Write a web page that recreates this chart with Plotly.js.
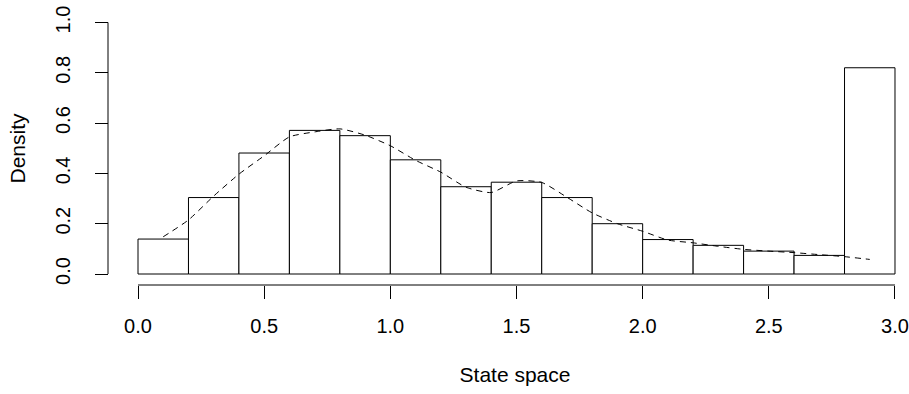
<!DOCTYPE html>
<html>
<head>
<meta charset="utf-8">
<script src="https://cdn.plot.ly/plotly-3.0.1.min.js"></script>
<style>html,body{margin:0;padding:0;background:#fff;overflow:hidden}#chart{width:909px;height:394px}</style>
</head>
<body>
<div id="chart"></div>
<script>
// Histogram bins (breaks) and densities
const breaks = [0.0,0.2,0.4,0.6,0.8,1.0,1.2,1.4,1.6,1.8,2.0,2.2,2.4,2.6,2.8,3.0];
const density = [0.139,0.304,0.481,0.571,0.550,0.454,0.347,0.365,0.304,0.200,0.137,0.114,0.091,0.074,0.820];

// Dashed density curve
const curveX = [0.1,0.2,0.3,0.4,0.5,0.6,0.7,0.8,0.9,1.0,1.1,1.2,1.3,1.4,1.5,1.6,1.7,1.8,1.9,2.0,2.1,2.2,2.3,2.4,2.5,2.6,2.7,2.8,2.9];
const curveY = [0.148,0.215,0.310,0.397,0.470,0.545,0.565,0.577,0.552,0.510,0.452,0.405,0.345,0.324,0.370,0.364,0.305,0.243,0.200,0.170,0.135,0.124,0.110,0.098,0.091,0.085,0.077,0.069,0.058];

const xTicks = [0,0.5,1.0,1.5,2.0,2.5,3.0];
const yTicks = [0,0.2,0.4,0.6,0.8,1.0];

const mids = density.map((d,i)=>(breaks[i]+breaks[i+1])/2);
const widths = density.map((d,i)=>breaks[i+1]-breaks[i]);

const FONT = 'Liberation Sans, Arial, Helvetica, sans-serif';
const FS = 21;
const TFS = 20;

const traces = [
  {type:'bar', x:mids, y:density, width:widths,
   marker:{color:'#ffffff', line:{color:'#000000', width:1}},
   hoverinfo:'x+y', showlegend:false},
  {type:'scatter', mode:'lines', x:curveX, y:curveY,
   line:{color:'#000000', width:1, dash:'6px,5px', shape:'spline', smoothing:0.6},
   showlegend:false}
];

const layout = {
  width:909, height:394,
  margin:{l:108, r:0, t:12, b:109, pad:0},
  paper_bgcolor:'#ffffff', plot_bgcolor:'#ffffff',
  font:{family:FONT, size:FS, color:'#000000'},
  bargap:0,
  xaxis:{
    domain:[13/801, 1],
    range:[(121-138)/252.33, (909-138)/252.33],
    tickvals:xTicks, tickformat:'.1f',
    ticks:'outside', ticklen:13, tickwidth:1, tickcolor:'#000000',
    showline:false, zeroline:false, showgrid:false,
    ticklabelstandoff:10,
    tickfont:{family:FONT, size:TFS, color:'#000000'},
    title:{text:'State space', font:{family:FONT, size:FS, color:'#000000'}, standoff:31}
  },
  yaxis:{
    anchor:'free', position:0,
    range:[-0.0437, 1.0417],
    tickvals:yTicks, tickformat:'.1f', tickangle:-90,
    ticks:'outside', ticklen:13, tickwidth:1, tickcolor:'#000000',
    showline:false, zeroline:false, showgrid:false,
    ticklabelstandoff:17,
    tickfont:{family:FONT, size:TFS, color:'#000000'},
    title:{text:'Density', font:{family:FONT, size:FS, color:'#000000'}, standoff:19}
  },
  shapes:[
    {type:'line', xref:'x', yref:'paper', x0:xTicks[0], x1:xTicks[xTicks.length-1], y0:0, y1:0,
     line:{color:'#000000', width:1}},
    {type:'line', xref:'paper', yref:'y', x0:0, x1:0, y0:yTicks[0], y1:yTicks[yTicks.length-1],
     line:{color:'#000000', width:1}}
  ]
};

Plotly.newPlot('chart', traces, layout, {displayModeBar:false, staticPlot:true});
</script>
</body>
</html>
